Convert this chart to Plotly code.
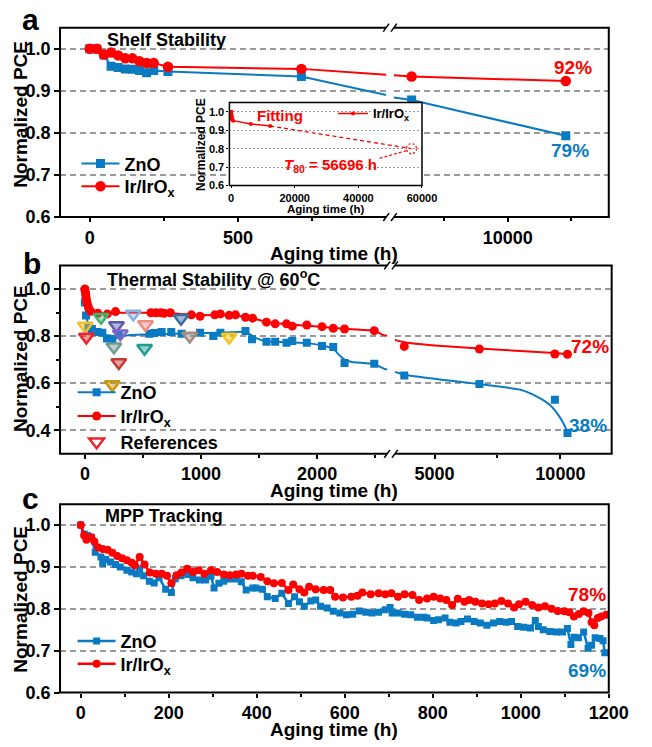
import plotly.graph_objects as go

W, H = 652, 747
FONT = "Liberation Sans"
BLUE = "#0a7bc2"
RED = "#ff0000"
GRID = "#9a9a9a"

# ---------------- Panel a: shelf stability ----------------
a_h = [0, 24, 48, 72, 96, 120, 144, 168, 192, 216, 264, 714, 6200, 12300]
a_zno = [1.0, 0.999, 0.985, 0.958, 0.955, 0.952, 0.951, 0.948, 0.943, 0.948, 0.946, 0.934, 0.878, 0.793]
a_ir = [1.0, 1.0, 0.986, 0.991, 0.984, 0.977, 0.977, 0.970, 0.966, 0.966, 0.957, 0.952, 0.934, 0.923]
# where the drawn lines meet the axis break
a_break_h = [1000, 5500]
a_zno_break = [0.890, 0.884]
a_ir_break = [0.938, 0.937]
# inset fit
inset_fit_h = [12300, 56696]
inset_fit_v = [0.923, 0.80]
T80 = 56696

# ---------------- Panel b: thermal stability ----------------
b_zno_h = [0, 10, 30, 60, 110, 150, 190, 236, 292, 556, 597, 661, 744, 833, 992, 1106, 1167,
           1383, 1439, 1564, 1639, 1736, 1786, 1911, 2042, 2139, 2236, 2492, 3796, 6781, 9781, 10281]
b_zno_v = [0.943, 0.887, 0.835, 0.83, 0.817, 0.814, 0.79, 0.785, 0.805, 0.81, 0.813, 0.817, 0.817, 0.81, 0.814, 0.80, 0.814,
           0.821, 0.786, 0.776, 0.776, 0.772, 0.779, 0.772, 0.758, 0.754, 0.686, 0.682, 0.633, 0.596, 0.530, 0.388]
b_ir_h = [0, 3, 6, 10, 15, 22, 32, 50, 111, 194, 264, 569, 611, 653, 681, 736, 917, 992, 1119, 1167, 1242, 1297,
          1383, 1444, 1564, 1639, 1736, 1786, 1911, 2042, 2139, 2236, 2492, 3796, 6781, 9781, 10281]
b_ir_v = [1.0, 0.99, 0.978, 0.965, 0.95, 0.935, 0.92, 0.905, 0.897, 0.894, 0.904, 0.899, 0.899, 0.899, 0.897, 0.899, 0.890, 0.884, 0.890, 0.894, 0.888, 0.890,
          0.880, 0.876, 0.859, 0.852, 0.852, 0.842, 0.847, 0.840, 0.833, 0.830, 0.823, 0.756, 0.745, 0.724, 0.723]
b_zno_fit_h = [0, 15, 40, 80, 150, 250, 400, 600, 900, 1200, 1380, 1420, 1480, 1560, 1700, 1900, 2050, 2140, 2190, 2240,
               2300, 2492, 2583, 3423, 3796, 5190, 6781, 8410, 9050, 9565, 9950, 10204, 10281]
b_zno_fit_v = [0.96, 0.88, 0.835, 0.815, 0.805, 0.80, 0.804, 0.808, 0.812, 0.815, 0.818, 0.808, 0.79, 0.778, 0.775, 0.77, 0.76, 0.745, 0.72, 0.699,
               0.69, 0.681, 0.66, 0.648, 0.636, 0.616, 0.596, 0.572, 0.544, 0.509, 0.46, 0.411, 0.388]
b_ir_fit_h = [0, 8, 20, 40, 80, 150, 300, 600, 800, 1000, 1200, 1380, 1450, 1550, 1700, 1900, 2100, 2300, 2492, 2583,
              3423, 3796, 5000, 6781, 8400, 9781, 10281]
b_ir_fit_v = [1.0, 0.96, 0.925, 0.905, 0.898, 0.897, 0.899, 0.899, 0.895, 0.889, 0.888, 0.882, 0.874, 0.862, 0.852, 0.845, 0.836, 0.829, 0.822, 0.803,
              0.783, 0.774, 0.760, 0.747, 0.737, 0.728, 0.723]
ref_h = [3, 13, 139, 272, 305, 250, 292, 417, 522, 514, 828, 903, 1242, 236]
ref_v = [0.843, 0.796, 0.88, 0.845, 0.81, 0.755, 0.688, 0.894, 0.849, 0.748, 0.876, 0.80, 0.796, 0.594]
ref_colors = ["#f5c02a", "#e8262b", "#3fb46f", "#5d5aa8", "#7a66c8", "#6f9993", "#c43a32",
              "#88b0dd", "#f28a84", "#1f9d90", "#3a6da3", "#a08c82", "#f5c518", "#c8960e"]

# ---------------- Panel c: MPP tracking ----------------
c_zno_h = [0, 8, 15, 24, 33, 46, 50, 57, 68, 79, 90, 105, 116, 127, 134, 143, 156, 167, 178, 193, 206, 215, 228, 244,
           255, 270, 284, 296, 303, 314, 325, 339, 354, 365, 376, 391, 398, 413, 424, 442, 457, 472, 486, 497, 508, 523,
           534, 545, 560, 574, 589, 604, 618, 633, 648, 662, 677, 692, 703, 708, 721, 736, 750, 765, 780, 787, 802, 813,
           828, 839, 853, 864, 879, 894, 908, 923, 938, 952, 967, 979, 993, 1007, 1022, 1033, 1040, 1051, 1066, 1081,
           1095, 1106, 1114, 1121, 1131, 1143, 1153, 1161, 1169, 1180, 1187, 1191]
c_zno_v = [1.0, 0.979, 0.975, 0.971, 0.935, 0.924, 0.908, 0.918, 0.912, 0.906, 0.90, 0.892, 0.888, 0.884, 0.896, 0.879,
           0.866, 0.862, 0.874, 0.847, 0.839, 0.872, 0.879, 0.882, 0.874, 0.869, 0.869, 0.878, 0.85, 0.861, 0.866, 0.871,
           0.871, 0.865, 0.845, 0.85, 0.85, 0.847, 0.829, 0.825, 0.837, 0.813, 0.829, 0.817, 0.806, 0.819, 0.821, 0.806,
           0.802, 0.794, 0.790, 0.786, 0.787, 0.795, 0.792, 0.79, 0.792, 0.798, 0.803, 0.79, 0.79, 0.787, 0.786, 0.78,
           0.78, 0.778, 0.772, 0.774, 0.778, 0.768, 0.766, 0.77, 0.776, 0.77, 0.766, 0.761, 0.766, 0.77, 0.768, 0.77,
           0.758, 0.756, 0.754, 0.772, 0.758, 0.75, 0.746, 0.745, 0.745, 0.753, 0.715, 0.732, 0.731, 0.745, 0.706, 0.713,
           0.731, 0.729, 0.724, 0.695]
c_ir_h = [0, 8, 13, 24, 31, 39, 50, 61, 72, 83, 94, 105, 116, 123, 134, 145, 157, 171, 184, 196, 206, 218, 229, 242,
          255, 268, 281, 296, 310, 325, 339, 353, 365, 380, 391, 409, 424, 439, 457, 472, 483, 497, 508, 519, 534, 552,
          567, 578, 596, 615, 629, 640, 659, 677, 692, 706, 721, 736, 754, 769, 787, 802, 817, 831, 844, 857, 872, 883,
          897, 912, 927, 941, 956, 971, 985, 996, 1011, 1026, 1040, 1055, 1070, 1084, 1099, 1110, 1121, 1132, 1143,
          1154, 1161, 1167, 1175, 1183, 1194]
c_ir_v = [1.0, 0.975, 0.965, 0.971, 0.961, 0.947, 0.943, 0.941, 0.934, 0.926, 0.921, 0.916, 0.910, 0.904, 0.924, 0.906,
          0.887, 0.884, 0.884, 0.879, 0.861, 0.88, 0.887, 0.896, 0.888, 0.892, 0.884, 0.892, 0.888, 0.882, 0.88, 0.882,
          0.884, 0.879, 0.879, 0.876, 0.866, 0.861, 0.862, 0.845, 0.858, 0.847, 0.839, 0.853, 0.847, 0.845, 0.845, 0.829,
          0.827, 0.829, 0.831, 0.839, 0.835, 0.837, 0.835, 0.837, 0.829, 0.835, 0.833, 0.821, 0.825, 0.829, 0.825, 0.821,
          0.809, 0.824, 0.817, 0.821, 0.817, 0.813, 0.811, 0.813, 0.819, 0.813, 0.803, 0.811, 0.817, 0.809, 0.803, 0.806,
          0.80, 0.795, 0.794, 0.792, 0.782, 0.788, 0.794, 0.790, 0.768, 0.761, 0.778, 0.782, 0.786]


def fx(p):
    return p / W


def fy(p):
    return 1 - p / H


def rgba(hexc, a):
    h = hexc.lstrip("#")
    r, g, b = int(h[0:2], 16), int(h[2:4], 16), int(h[4:6], 16)
    return f"rgba({r},{g},{b},{a})"


IR_NAME = "Ir/IrO<sub>x</sub>"
fig = go.Figure()

# ---- panel a traces (left and right of the break) ----
a_zno_line_h = a_h[:12] + a_break_h + a_h[12:]
a_zno_line_v = a_zno[:12] + a_zno_break + a_zno[12:]
a_ir_line_h = a_h[:12] + a_break_h + a_h[12:]
a_ir_line_v = a_ir[:12] + a_ir_break + a_ir[12:]
for xa in ["x", "x2"]:
    fig.add_trace(go.Scatter(x=a_zno_line_h, y=a_zno_line_v, mode="lines", line=dict(color=BLUE, width=2),
                             xaxis=xa, yaxis="y", showlegend=False))
    fig.add_trace(go.Scatter(x=a_h, y=a_zno, mode="markers", marker=dict(symbol="square", size=9, color=BLUE),
                             xaxis=xa, yaxis="y", showlegend=False))
    fig.add_trace(go.Scatter(x=a_ir_line_h, y=a_ir_line_v, mode="lines", line=dict(color=RED, width=2),
                             xaxis=xa, yaxis="y", showlegend=False))
    fig.add_trace(go.Scatter(x=a_h, y=a_ir, mode="markers", marker=dict(symbol="circle", size=10.5, color=RED),
                             xaxis=xa, yaxis="y", showlegend=False))
fig.add_trace(go.Scatter(x=[None], y=[None], mode="lines+markers", name="ZnO",
                         line=dict(color=BLUE, width=2), marker=dict(symbol="square", size=9, color=BLUE),
                         legend="legend"))
fig.add_trace(go.Scatter(x=[None], y=[None], mode="lines+markers", name=IR_NAME,
                         line=dict(color=RED, width=2), marker=dict(symbol="circle", size=10.5, color=RED),
                         legend="legend2"))

# ---- panel b traces ----
for xa in ["x3", "x4"]:
    fig.add_trace(go.Scatter(x=b_zno_fit_h, y=b_zno_fit_v, mode="lines",
                             line=dict(color=BLUE, width=2, shape="spline", smoothing=0.5),
                             xaxis=xa, yaxis="y2", showlegend=False))
    fig.add_trace(go.Scatter(x=b_zno_h, y=b_zno_v, mode="markers", marker=dict(symbol="square", size=8, color=BLUE),
                             xaxis=xa, yaxis="y2", showlegend=False))
    fig.add_trace(go.Scatter(x=b_ir_fit_h, y=b_ir_fit_v, mode="lines",
                             line=dict(color=RED, width=2, shape="spline", smoothing=0.5),
                             xaxis=xa, yaxis="y2", showlegend=False))
    fig.add_trace(go.Scatter(x=b_ir_h, y=b_ir_v, mode="markers", marker=dict(symbol="circle", size=9, color=RED),
                             xaxis=xa, yaxis="y2", showlegend=False))
fig.add_trace(go.Scatter(x=ref_h, y=ref_v, mode="markers",
                         marker=dict(symbol="triangle-down", size=13, color=[rgba(c, 0.45) for c in ref_colors],
                                     line=dict(color=ref_colors, width=2.5)),
                         xaxis="x3", yaxis="y2", showlegend=False))
fig.add_trace(go.Scatter(x=[None], y=[None], mode="lines+markers", name="ZnO",
                         line=dict(color=BLUE, width=2), marker=dict(symbol="square", size=8, color=BLUE),
                         legend="legend3"))
fig.add_trace(go.Scatter(x=[None], y=[None], mode="lines+markers", name=IR_NAME,
                         line=dict(color=RED, width=2), marker=dict(symbol="circle", size=9, color=RED),
                         legend="legend4"))
fig.add_trace(go.Scatter(x=[None], y=[None], mode="markers", name="References",
                         marker=dict(symbol="triangle-down", size=13, color="rgba(255,255,255,0.9)",
                                     line=dict(color="#e8262b", width=2.5)),
                         legend="legend5"))

# ---- panel c traces ----
fig.add_trace(go.Scatter(x=c_zno_h, y=c_zno_v, mode="lines+markers", line=dict(color=BLUE, width=2.5),
                         marker=dict(symbol="square", size=7, color=BLUE), xaxis="x5", yaxis="y3", name="ZnO",
                         legend="legend6"))
fig.add_trace(go.Scatter(x=c_ir_h, y=c_ir_v, mode="lines+markers", line=dict(color=RED, width=2.5),
                         marker=dict(symbol="circle", size=8, color=RED), xaxis="x5", yaxis="y3",
                         name=IR_NAME, legend="legend7"))

# ---- inset traces ----
fig.add_trace(go.Scatter(x=a_h, y=a_ir, mode="lines+markers", line=dict(color=RED, width=1.5),
                         marker=dict(symbol="circle", size=4, color=RED), xaxis="x6", yaxis="y4",
                         name=IR_NAME, legend="legend8"))
fig.add_trace(go.Scatter(x=inset_fit_h, y=inset_fit_v, mode="lines", line=dict(color=RED, width=1.3, dash="4px,3px"),
                         xaxis="x6", yaxis="y4", showlegend=False))

# ---------------- axes ----------------
tickfont = dict(family=FONT, size=18, color="black", weight="bold")


def xaxis(dom, rng, anchor, tickvals, minor_vals, tickfont=tickfont, ticklen=5):
    return dict(domain=[fx(dom[0]), fx(dom[1])], range=rng, anchor=anchor, showline=False, zeroline=False,
                showgrid=False, ticks="outside", ticklen=ticklen, tickwidth=2, tickcolor="black",
                tickmode="array", tickvals=tickvals, ticktext=[str(v) for v in tickvals], tickfont=tickfont,
                minor=dict(tickmode="array", tickvals=minor_vals, ticks="outside", ticklen=3, tickwidth=2,
                           tickcolor="black", showgrid=False),
                fixedrange=True)


def yaxis(dom, rng, anchor, tickvals, minor_vals, gdash="6px,4px", gwidth=1.5, tickfont=tickfont, ticklen=5):
    return dict(domain=[fy(dom[1]), fy(dom[0])], range=rng, anchor=anchor, showline=False, zeroline=False,
                showgrid=True, gridcolor=GRID, griddash=gdash, gridwidth=gwidth,
                ticks="outside", ticklen=ticklen, tickwidth=2, tickcolor="black",
                tickmode="array", tickvals=tickvals, ticktext=[f"{v:.1f}" for v in tickvals], tickfont=tickfont,
                minor=dict(tickmode="array", tickvals=minor_vals, ticks="outside", ticklen=3, tickwidth=2,
                           tickcolor="black", showgrid=False),
                fixedrange=True)


inset_font = dict(family=FONT, size=11, color="black", weight="bold")

fig.update_layout(
    xaxis=xaxis((61, 398), [-100, 1000], "y", [0, 500], [250, 750], ticklen=4),
    xaxis2=xaxis((406, 628), [5500, 14000], "y", [10000], [7500, 12500], ticklen=4),
    yaxis=yaxis((28, 220), [0.6, 1.05], "x", [0.6, 0.7, 0.8, 0.9, 1.0], []),
    xaxis3=xaxis((61, 399), [-214, 2603], "y2", [0, 1000, 2000], [500, 1500, 2500], ticklen=4),
    xaxis4=xaxis((407, 631), [3423, 12038], "y2", [5000, 10000], [7500], ticklen=4),
    yaxis2=yaxis((269, 460), [0.3, 1.1], "x3", [0.4, 0.6, 0.8, 1.0], [0.5, 0.7, 0.9]),
    xaxis5=xaxis((61, 628), [-47, 1200], "y3", [0, 200, 400, 600, 800, 1000, 1200],
                 [100, 300, 500, 700, 900, 1100], ticklen=4),
    yaxis3=yaxis((511, 702), [0.6, 1.05], "x5", [0.6, 0.7, 0.8, 0.9, 1.0], []),
    xaxis6=xaxis((236, 435), [-520, 60000], "y4", [0, 20000, 40000, 60000], [], tickfont=inset_font, ticklen=2),
    yaxis4=yaxis((104, 188), [0.6, 1.05], "x6", [0.6, 0.7, 0.8, 0.9, 1.0], [], gdash="2px,2px", gwidth=1,
                 tickfont=inset_font, ticklen=2),
)
fig.layout.xaxis6.tickwidth = 1.2
fig.layout.yaxis4.tickwidth = 1.2

# ---------------- legends (one entry each, placed like the reference) ----------------
leg_font = dict(family=FONT, size=18, color="black", weight="bold")


def leg(xl, yc, font=leg_font, itemwidth=38):
    return dict(x=fx(xl), y=fy(yc), xanchor="left", yanchor="middle", bgcolor="rgba(0,0,0,0)", borderwidth=0,
                font=font, itemwidth=itemwidth, itemclick=False, itemdoubleclick=False)


fig.update_layout(
    legend=leg(78, 166),
    legend2=leg(78, 189),
    legend3=leg(74, 398),
    legend4=leg(74, 422),
    legend5=leg(74, 448),
    legend6=leg(74, 650),
    legend7=leg(74, 673),
    legend8=leg(343, 115, font=dict(family=FONT, size=13, color="black", weight="bold"), itemwidth=30),
)

# ---------------- frames & breaks ----------------
shapes = []


def seg(x0, y0, x1, y1, w=2):
    shapes.append(dict(type="line", xref="paper", yref="paper", x0=fx(x0), y0=fy(y0), x1=fx(x1), y1=fy(y1),
                       line=dict(color="black", width=w)))


def broken_frame(l, r, t, b, bl, br):
    seg(l, t, l, b)
    seg(r, t, r, b)
    for yy in (t, b):
        seg(l - 1, yy, bl, yy)
        seg(br, yy, r + 1, yy)
        for xc in (bl, br):
            seg(xc - 3, yy + 4, xc + 3, yy - 4, 1.5)


broken_frame(61, 628, 28, 220, 398, 406)
broken_frame(61, 631, 269, 460, 399, 407)
shapes.append(dict(type="rect", xref="paper", yref="paper", x0=fx(61), x1=fx(628), y0=fy(702), y1=fy(511),
                   line=dict(color="black", width=2)))
shapes.append(dict(type="rect", xref="paper", yref="paper", x0=fx(236), x1=fx(435), y0=fy(188), y1=fy(104),
                   line=dict(color="black", width=1.5)))
# T80 marker circle and pointer
shapes.append(dict(type="circle", xref="x6", yref="y4", xsizemode="pixel", ysizemode="pixel",
                   xanchor=T80, yanchor=inset_fit_v[-1], x0=-5, x1=5, y0=-5, y1=5,
                   line=dict(color=RED, width=1.2, dash="2px,2px")))
shapes.append(dict(type="line", xref="x6", yref="y4", xsizemode="pixel", ysizemode="pixel",
                   xanchor=T80, yanchor=inset_fit_v[-1], x0=-5, x1=-33, y0=-2, y1=-10,
                   line=dict(color=RED, width=1.2, dash="3px,2px")))
fig.update_layout(shapes=shapes)

# ---------------- annotations ----------------
ann = []


def text(x, y, s, size=18, color="black", xanchor="center", angle=0, yanchor="middle"):
    ann.append(dict(x=fx(x), y=fy(y), xref="paper", yref="paper", text=s, showarrow=False, xanchor=xanchor,
                    yanchor=yanchor, textangle=angle,
                    font=dict(family=FONT, size=size, color=color, weight="bold")))


text(30, 20, "a", 30)
text(32, 267, "b", 30)
text(30, 505, "c", 30)
text(107, 41, "Shelf Stability", 18, xanchor="left")
text(107, 282, "Thermal Stability @ 60<sup>o</sup>C", 18, xanchor="left")
text(105, 523, "MPP Tracking", 18, xanchor="left")
for yc in (116, 363.5, 607.5):
    text(20, yc, "Normalized PCE", 19, angle=-90)
for yc in (257, 497, 739):
    text(344.5, yc, "Aging time (h)", 19)
text(591, 68, "92%", 19, RED)
text(588, 153, "79%", 19, BLUE)
text(609, 351.5, "72%", 19, RED)
text(607, 431.5, "38%", 19, BLUE)
text(606, 603, "78%", 19, RED)
text(605, 680, "69%", 19, BLUE)
# inset texts
text(288, 117, "Fitting", 15, RED)
text(340, 168, f"<i>T</i><sub>80</sub> = {T80} h", 15, RED)
text(206, 146.5, "Normalized PCE", 12, angle=-90)
text(335, 212, "Aging time (h)", 11.5)
fig.update_layout(annotations=ann)

fig.update_layout(width=W, height=H, margin=dict(l=0, r=0, t=0, b=0), paper_bgcolor="white",
                  plot_bgcolor="white", font=dict(family=FONT, color="black"))

fig.write_html("out.html")
